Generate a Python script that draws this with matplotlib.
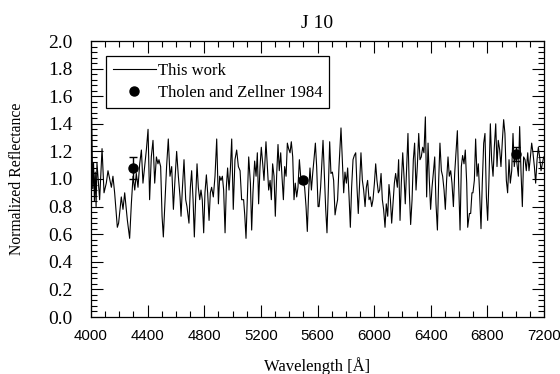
import matplotlib
matplotlib.use("Agg")
import matplotlib.pyplot as plt
from matplotlib.ticker import MultipleLocator
from matplotlib.lines import Line2D

# ---- data ----
wavelength = [
    4000, 4005, 4012, 4018, 4024, 4030, 4036, 4042, 4061, 4078, 4092, 4108, 4120, 4144, 4155, 4167,
    4186, 4195, 4214, 4226, 4238, 4257, 4273, 4285, 4297, 4309, 4320, 4332, 4344, 4356, 4367, 4379,
    4391, 4403, 4414, 4426, 4438, 4450, 4462, 4473, 4480, 4492, 4502, 4511,
    4534, 4546, 4558, 4570, 4582, 4593, 4605, 4617, 4629, 4636, 4645, 4657, 4669, 4678, 4692, 4702,
    4711, 4721, 4730, 4739, 4749, 4758, 4768, 4777, 4786, 4796, 4805, 4815, 4824, 4834, 4843, 4852,
    4864, 4876, 4888, 4900, 4909, 4918, 4928, 4937, 4947, 4956, 4965, 4975, 4984, 4994, 5005, 5017,
    5029, 5041, 5053, 5064,
    5078, 5086, 5095, 5104, 5114, 5126, 5135, 5144, 5156, 5166, 5175, 5184, 5194, 5203, 5213, 5222,
    5236, 5246, 5255, 5265, 5274, 5283, 5293, 5302, 5312, 5321, 5330, 5340, 5349, 5359, 5368, 5378,
    5387, 5396, 5406, 5415, 5425, 5434, 5443, 5453, 5462, 5472, 5481, 5491, 5500, 5509, 5519, 5528,
    5538, 5547, 5557, 5566, 5575, 5585, 5594, 5604,
    5611, 5622, 5639, 5648, 5658, 5667, 5677, 5686, 5695, 5705, 5714, 5724, 5733, 5742, 5752, 5766,
    5775, 5785, 5794, 5804, 5813, 5823, 5832, 5841, 5851, 5860, 5870, 5879, 5888, 5898, 5907, 5917,
    5926, 5936, 5945, 5954, 5964, 5973, 5983, 5992, 6002, 6011, 6020, 6030, 6039, 6049, 6058, 6067,
    6077, 6086, 6096, 6105, 6115, 6124, 6133, 6143, 6152,
    6164, 6173, 6183, 6192, 6202, 6211, 6220, 6230, 6239, 6249, 6258, 6268, 6277, 6286, 6296, 6305,
    6315, 6324, 6333, 6343, 6352, 6362, 6371, 6381, 6390, 6399, 6409, 6418, 6428, 6437, 6447, 6456,
    6465, 6475, 6484, 6494, 6503, 6512, 6522, 6531, 6541, 6550, 6560, 6569, 6578, 6588, 6597, 6607,
    6616, 6625, 6635, 6644, 6654, 6661, 6673, 6682, 6691,
    6698, 6708, 6717, 6727, 6736, 6745, 6755, 6764, 6774, 6783, 6793, 6802, 6811, 6821, 6830, 6840,
    6849, 6859, 6868, 6877, 6887, 6896, 6906, 6915, 6924, 6934, 6943, 6953, 6962, 6972, 6981, 6990,
    7000, 7009, 7019, 7028, 7038, 7047, 7056, 7066, 7075, 7085, 7094, 7104, 7113, 7122, 7132, 7141,
    7151, 7160, 7169, 7179, 7188, 7198,
]
reflectance = [
    1.00, 1.45, 0.93, 1.12, 0.84, 1.05, 0.80, 1.12, 0.85, 1.22, 0.90, 0.97, 1.06, 0.94, 1.02, 0.90,
    0.65, 0.68, 0.87, 0.78, 0.90, 0.70, 0.57, 0.82, 1.02, 0.92, 1.04, 0.94, 1.11, 1.21, 0.97, 1.09,
    1.21, 1.36, 0.85, 1.16, 1.28, 0.97, 1.16, 1.11, 1.14, 1.09, 0.73, 0.58,
    1.09, 1.29, 1.02, 1.09, 0.78, 0.99, 1.20, 1.02, 0.87, 0.73, 0.92, 1.14, 0.85, 0.80, 0.68, 0.94,
    1.06, 0.85, 0.58, 0.85, 1.11, 0.94, 0.85, 0.92, 0.85, 0.61, 0.90, 1.03, 0.90, 0.70, 0.90, 0.94,
    0.87, 1.02, 1.29, 0.82, 1.02, 0.99, 1.02, 0.92, 0.61, 0.94, 1.08, 0.92, 1.06, 1.29, 0.78, 1.14,
    1.21, 1.09, 1.06, 0.85,
    0.85, 0.74, 0.57, 0.85, 1.16, 0.97, 0.63, 0.90, 1.13, 1.02, 1.19, 0.82, 1.09, 1.23, 1.11, 0.99,
    1.27, 1.09, 0.92, 0.99, 0.85, 1.11, 1.02, 0.73, 1.04, 1.25, 1.06, 1.19, 1.02, 0.85, 1.09, 1.02,
    1.26, 1.22, 1.19, 1.27, 1.16, 0.85, 0.97, 0.87, 0.94, 1.14, 1.02, 0.99, 0.97, 0.94, 0.80, 0.62,
    0.92, 1.08, 0.92, 1.04, 1.14, 1.26, 1.09, 0.80,
    0.80, 0.94, 1.28, 1.04, 0.78, 0.61, 0.94, 1.27, 1.04, 1.05, 0.99, 0.74, 0.80, 0.85, 1.09, 1.37,
    1.14, 0.90, 1.05, 0.97, 1.08, 0.87, 0.65, 0.94, 1.14, 1.17, 1.19, 0.94, 0.75, 0.99, 1.19, 0.99,
    0.92, 0.80, 0.94, 0.99, 0.85, 0.87, 0.80, 0.85, 0.97, 1.11, 0.99, 0.90, 0.92, 1.04, 0.85, 0.78,
    0.65, 0.82, 0.73, 0.96, 0.85, 0.68, 0.82, 0.97, 1.04,
    0.94, 1.14, 0.70, 0.97, 1.19, 1.02, 0.82, 1.09, 1.33, 0.90, 0.67, 0.85, 1.14, 1.26, 0.92, 1.09,
    1.33, 1.14, 1.16, 1.23, 1.19, 1.45, 0.87, 1.26, 0.99, 0.78, 0.94, 1.04, 1.16, 0.82, 0.63, 0.99,
    1.26, 1.06, 1.02, 0.92, 0.78, 0.99, 1.16, 1.02, 1.06, 0.97, 0.80, 1.04, 1.19, 1.35, 0.97, 0.63,
    1.09, 1.17, 1.11, 1.21, 0.97, 0.65, 0.75, 0.75, 0.90,
    0.90, 0.99, 1.29, 1.02, 1.11, 0.90, 0.64, 0.97, 1.26, 1.33, 0.87, 0.70, 0.99, 1.40, 1.14, 1.02,
    1.23, 1.40, 1.09, 1.28, 1.21, 1.09, 1.28, 1.43, 1.33, 0.99, 0.90, 1.14, 0.97, 1.06, 1.33, 1.09,
    1.19, 1.11, 1.02, 1.38, 1.04, 0.80, 1.16, 1.14, 1.06, 1.19, 1.06, 1.16, 1.26, 1.19, 1.09, 0.97,
    1.14, 1.23, 1.16, 1.06, 1.11, 1.16,
]

tz_wavelength = [4300, 5500, 7000]
tz_reflectance = [1.08, 0.99, 1.18]
tz_error = [0.08, 0.02, 0.05]

x_ticks = [4000, 4400, 4800, 5200, 5600, 6000, 6400, 6800, 7200]
y_ticks = [0.0, 0.2, 0.4, 0.6, 0.8, 1.0, 1.2, 1.4, 1.6, 1.8, 2.0]

serif = "Liberation Serif"
sans = "Liberation Sans"

fig = plt.figure(figsize=(5.6, 3.74), dpi=100)
ax = fig.add_axes([91 / 560, 1 - 317 / 374, 453 / 560, 276 / 374])

ax.plot(wavelength, reflectance, color="black", lw=0.8)
ax.errorbar(tz_wavelength, tz_reflectance, yerr=tz_error, fmt="o", color="black",
            ms=6.5, capsize=3, elinewidth=1.0, capthick=1.0)

ax.set_xlim(4000, 7200)
ax.set_ylim(0.0, 2.0)
ax.set_xticks(x_ticks)
ax.set_yticks(y_ticks)
ax.set_xticklabels([str(v) for v in x_ticks], fontfamily=sans, fontsize=10.8)
ax.set_yticklabels([f"{v:.1f}" for v in y_ticks], fontfamily=serif, fontsize=14)
ax.xaxis.set_minor_locator(MultipleLocator(100))
ax.yaxis.set_minor_locator(MultipleLocator(0.04))

ax.tick_params(which="both", direction="in", top=True, right=True, width=0.8)
ax.tick_params(which="major", length=8.5)
ax.tick_params(which="minor", length=4)
ax.tick_params(axis="x", which="major", pad=8.5)
ax.tick_params(axis="y", which="major", pad=13.5)
for s in ax.spines.values():
    s.set_linewidth(0.9)

ax.set_title("J 10", fontfamily=serif, fontsize=14, pad=9)
ax.set_xlabel("Wavelength [Å]", fontfamily=serif, fontsize=12)
ax.set_ylabel("Normalized Reflectance", fontfamily=serif, fontsize=11.3)
ax.xaxis.set_label_coords(0.5, -0.145)
ax.yaxis.set_label_coords(-0.146, 0.5)

handles = [
    Line2D([], [], color="black", lw=0.8),
    Line2D([], [], color="black", marker="o", ms=6.5, ls="none"),
]
labels = ["This work", "Tholen and Zellner 1984"]
leg = ax.legend(handles, labels, loc="upper left", bbox_to_anchor=(0.033, 0.946),
                frameon=True, fancybox=False, edgecolor="black", framealpha=1,
                prop={"family": serif, "size": 12}, handlelength=2.6,
                handletextpad=0.1, borderpad=0.4, labelspacing=0.4,
                borderaxespad=0)
leg.get_frame().set_linewidth(0.9)

fig.savefig("out.png", dpi=100)
